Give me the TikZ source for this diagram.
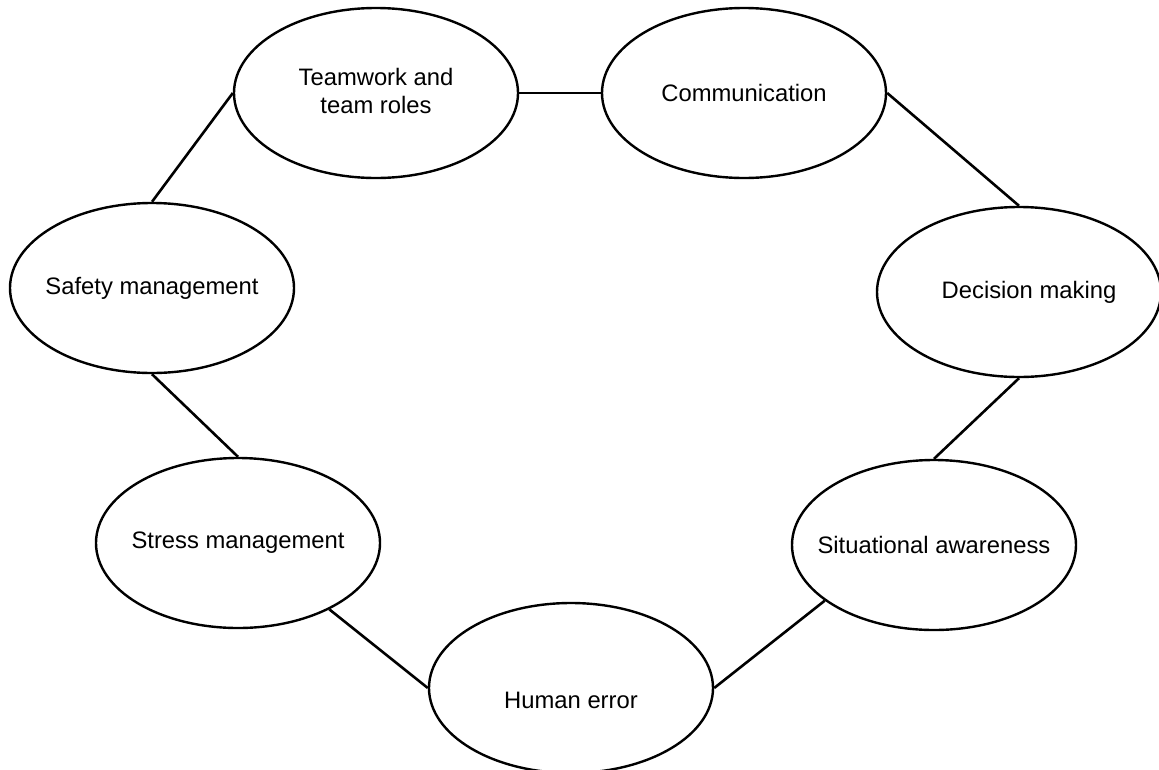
\documentclass[tikz,border=0pt]{standalone}
\usepackage{fontspec}
\setmainfont{Liberation Sans}
\usetikzlibrary{shapes.geometric}
\tikzset{
  elli/.style={draw=black, line width=2.4pt, ellipse, minimum width=284pt, minimum height=170pt, inner sep=0pt},
  lbl/.style={font=\fontsize{23.8}{27.5}\selectfont, align=center, text=black},
  conn/.style={draw=black, line width=2.6pt}
}
\begin{document}
\begin{tikzpicture}[x=1pt,y=-1pt]
\useasboundingbox[fill=white] (0,0) rectangle (1159,769);
\node[elli, label={[lbl, yshift=2pt]center:Teamwork and\\team roles}] (tw) at (376,93) {};
\node[elli, label={[lbl]center:Communication}] (cm) at (744,93) {};
\node[elli, label={[lbl, xshift=10pt]center:Decision making}] (dm) at (1019,292) {};
\node[elli, label={[lbl]center:Situational awareness}] (sa) at (934,545) {};
\node[elli, label={[lbl, yshift=-12pt]center:Human error}] (hm) at (571,688) {};
\node[elli, label={[lbl]center:Stress management}] (ss) at (238,543) {};
\node[elli, label={[lbl]center:Safety management}] (sf) at (152,288) {};
\draw[conn] (tw.east) -- (cm.west);
\draw[conn] (cm.east) -- (dm.north);
\draw[conn] (dm.south) -- (sa.north);
\draw[conn] (sa.207) -- (hm.east);
\draw[conn] (hm.west) -- (ss.324);
\draw[conn] (ss.north) -- (sf.south);
\draw[conn] (sf.north) -- (tw.west);
\end{tikzpicture}
\end{document}
